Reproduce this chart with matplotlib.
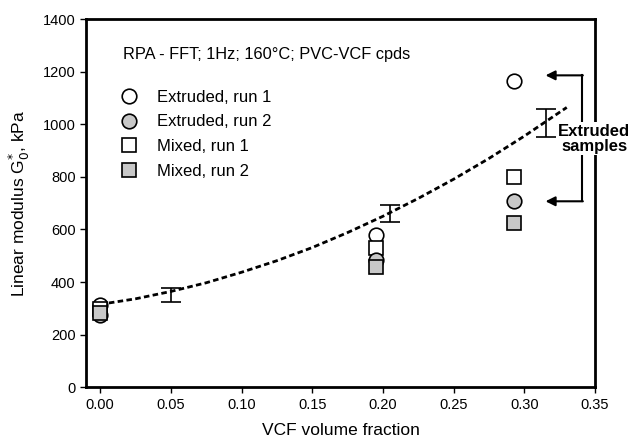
import numpy as np
import matplotlib
import matplotlib.pyplot as plt

matplotlib.use('Agg')

plt.rcParams['font.family'] = ['Liberation Sans', 'DejaVu Sans']

# measured points (VCF volume fraction, G'0 in kPa)
ext1_x = [0.0, 0.195, 0.293]
ext1_y = [312, 578, 1163]
ext2_x = [0.0, 0.195, 0.293]
ext2_y = [275, 482, 707]
mix1_x = [0.0, 0.195, 0.293]
mix1_y = [298, 530, 798]
mix2_x = [0.0, 0.195, 0.293]
mix2_y = [282, 458, 623]

# averaged values with error bars
err_x = [0.05, 0.205, 0.315]
err_y = [350, 660, 1005]
err_d = [27, 32, 52]

# trend line
fit_x = [0.0, 0.025, 0.05, 0.075, 0.10, 0.125, 0.15, 0.175, 0.20, 0.225, 0.25, 0.275, 0.30, 0.33]
fit_y = [315, 336, 364, 397, 437, 481, 531, 588, 650, 718, 791, 870, 955, 1064]

gray = '#c8c8c8'

fig = plt.figure(figsize=(6.32, 4.44), dpi=100)
ax = fig.add_axes([0.136, 0.128, 0.8055, 0.829])

ax.plot(fit_x, fit_y, color='black', lw=2, linestyle=(0, (2, 1.2)), zorder=2)
ax.errorbar(err_x, err_y, yerr=err_d, fmt='none', ecolor='black', elinewidth=1.2,
            capsize=7, capthick=1.2, zorder=3)

ax.plot(ext1_x, ext1_y, 'o', ms=10.5, mfc='white', mec='black', mew=1.2, ls='none',
        label='Extruded, run 1', zorder=4)
ax.plot(ext2_x, ext2_y, 'o', ms=10.5, mfc=gray, mec='black', mew=1.2, ls='none',
        label='Extruded, run 2', zorder=6)
ax.plot(mix1_x, mix1_y, 's', ms=9.5, mfc='white', mec='black', mew=1.2, ls='none',
        label='Mixed, run 1', zorder=5)
ax.plot(mix2_x, mix2_y, 's', ms=9.5, mfc=gray, mec='black', mew=1.2, ls='none',
        label='Mixed, run 2', zorder=7)

ax.set_xlim(-0.01, 0.35)
ax.set_ylim(0, 1400)
ax.set_xticks(np.arange(0, 0.351, 0.05))
ax.set_xticklabels(['0.00', '0.05', '0.10', '0.15', '0.20', '0.25', '0.30', '0.35'])
ax.set_yticks(np.arange(0, 1401, 200))

for s in ax.spines.values():
    s.set_linewidth(2)
ax.tick_params(direction='out', length=4, width=1, labelsize=10.5)

ax.set_xlabel('VCF volume fraction', fontsize=12.5, labelpad=8)
ax.set_ylabel(r'Linear modulus G$^{*}_{0}$, kPa', fontsize=12.5, labelpad=8)

ax.text(0.072, 0.905, 'RPA - FFT; 1Hz; 160°C; PVC-VCF cpds', transform=ax.transAxes,
        fontsize=11.8, va='center', ha='left')
ax.legend(loc='upper left', bbox_to_anchor=(0.039, 0.826), frameon=False, fontsize=12,
          handletextpad=0.65, labelspacing=0.58, borderaxespad=0)

# bracket with arrows pointing at the extruded samples
bx = 0.3406
ax.plot([bx, bx], [1186, 707], color='black', lw=1.5, zorder=8, clip_on=False)
for yy in [1186, 707]:
    ax.annotate('', xy=(0.315, yy), xytext=(bx + 0.0008, yy),
                arrowprops=dict(arrowstyle='-|>', color='black', lw=1.5,
                                mutation_scale=14, shrinkA=0, shrinkB=0), zorder=8)
ax.text(0.3495, 945, 'Extruded\nsamples', ha='center', va='center', fontsize=12,
        fontweight='bold', linespacing=1.0, zorder=20, clip_on=False,
        bbox=dict(facecolor='white', edgecolor='none', pad=1))

fig.savefig('out.png', dpi=100)
